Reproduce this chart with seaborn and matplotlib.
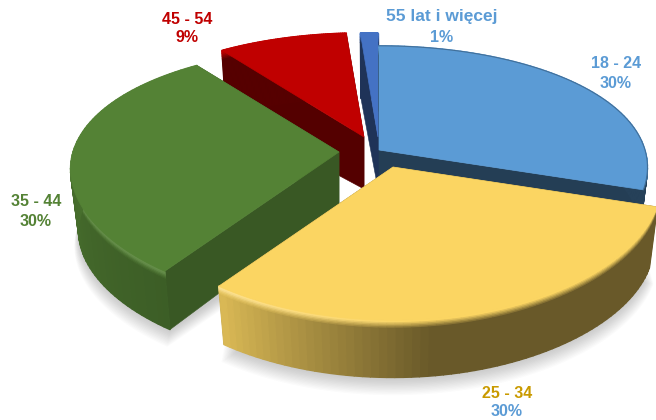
import numpy as np
import matplotlib
matplotlib.use("Agg")
import matplotlib.pyplot as plt
from matplotlib.collections import PolyCollection
from matplotlib.patches import Polygon
import seaborn as sns

categories = ["18 - 24", "25 - 34", "35 - 44", "45 - 54", "55 lat i więcej"]
values = [29.9, 30.0, 30.0, 8.9, 1.2]
base_hex = ["#5B9BD5", "#FBD562", "#548235", "#C00000", "#4472C4"]
label_hex = ["#5B9BD5", "#C99A00", "#548235", "#C00000", "#5B9BD5"]
pct_hex = ["#5B9BD5", "#5B9BD5", "#548235", "#C00000", "#5B9BD5"]

# layout / style
CENTER = (375.0, 151.0)
shift_x = [4, 18, -36, -11, 3]
shift_y = [-1, 16, 1, -14, -14]
RX, RY, KX, KY, LOW = 266.0, 124.0, 0.136, 0.19, 0.97
DEPTH, DEPTH_APEX, BEVEL = 62.0, 52.0, 9.0
cut_f = [0.40, 0.42, 0.68, 0.44, 0.45]
rim_t = [[0, 1], [0, 0.4, 1], [0.3, 1], [0, 1], [0, 1]]
rim_f = [[0.42, 0.42], [0.88, 0.42, 0.42], [0.90, 0.72], [0.45, 0.45], [0.45, 0.45]]
hilite = [0.0, 0.35, 0.12, 0.0, 0.0]
shadow = [False, True, True, False, False]
label_xy = [(616, 63, 84), (507, 393, 412), (36, 202, 221), (187, 20, 38), (442, 17, 37)]
label_pt = [11.5, 11.5, 11.5, 11.5, 12.5]
draw_order = [4, 3, 0, 2, 1]

sns.set_theme(style="white")
plt.rcParams["font.family"] = ["Liberation Sans", "DejaVu Sans"]
palette = np.array(sns.color_palette(base_hex))

fig = plt.figure(figsize=(6.56, 4.2), dpi=100, facecolor="white")
ax = fig.add_axes([0, 0, 1, 1])
ax.set_xlim(0, 656)
ax.set_ylim(420, 0)
ax.axis("off")

edges = np.concatenate([[0], np.cumsum(values)]) / np.sum(values) * 360.0


def project(theta_deg, ax0, ay0, scale=1.0):
    th = np.radians(theta_deg)
    u, v = np.sin(th), np.cos(th)
    return ax0 + scale * RX * u / (1 + KX * v), ay0 - scale * RY * v / (1 + KY * v)


for z, i in enumerate(draw_order):
    a0, a1 = edges[i], edges[i + 1]
    col = palette[i]
    px, py = CENTER[0] + shift_x[i], CENTER[1] + shift_y[i]
    thetas = np.linspace(a0, a1, 70)
    X, Y = project(thetas, px, py)
    XL, YL = project(thetas, px, py, LOW)
    YL = YL + DEPTH
    zb = 10 + z * 10

    if shadow[i]:
        for s in range(14):
            d = DEPTH + 1 + s * 1.1
            sx, sy = project(thetas, px, py, LOW + 0.0012 * s)
            poly = np.column_stack([np.r_[px, sx], np.r_[py + d, sy + d]])
            ax.add_patch(Polygon(poly, closed=True, fc="0.35", ec="none", alpha=0.022, zorder=zb))

    # cut faces
    cut = col * cut_f[i]
    for e in (0, -1):
        q = [(px, py), (X[e], Y[e]), (XL[e], YL[e]), (px, py + DEPTH_APEX)]
        ax.add_patch(Polygon(q, closed=True, fc=cut, ec=cut, lw=0.4, zorder=zb + 1))

    # outer rim with bevel, built of small shaded cells
    t = 1 - (thetas - a0) / (a1 - a0)
    fac = np.interp(t, rim_t[i], rim_f[i])
    layers = np.r_[np.linspace(0, BEVEL, 7), DEPTH] / DEPTH
    quads, colors = [], []
    for j in range(len(layers) - 1):
        s = min(1.0, layers[j] * DEPTH / BEVEL)
        f0, f1 = layers[j], layers[j + 1]
        XA, YA = X + (XL - X) * f0, Y + (YL - Y) * f0
        XB, YB = X + (XL - X) * f1, Y + (YL - Y) * f1
        for n in range(len(thetas) - 1):
            quads.append([(XA[n], YA[n]), (XA[n + 1], YA[n + 1]), (XB[n + 1], YB[n + 1]), (XB[n], YB[n])])
            lit = hilite[i] * (fac[n] - 0.42) / 0.46 if i == 1 else hilite[i]
            peak = 1 - abs(s - 0.3) / 0.7
            top = col + (1 - col) * max(lit, 0) * max(peak, 0)
            side = col * fac[n]
            m = np.clip((s - 0.2) / 0.8, 0, 1)
            colors.append(np.clip(top * (1 - m) + side * m, 0, 1))
    pc = PolyCollection(quads, facecolors=colors, edgecolors=colors, linewidths=1.0, zorder=zb + 2)
    ax.add_collection(pc)

    # top face
    poly = np.column_stack([np.r_[px, X], np.r_[py, Y]])
    ax.add_patch(Polygon(poly, closed=True, fc=col, ec=col, lw=0.5, zorder=zb + 3))
    if i == 0:
        ax.plot(X, Y, color=col * 0.6, lw=0.8, alpha=0.7, zorder=zb + 4)

    # labels
    lx, ly1, ly2 = label_xy[i]
    ax.text(lx, ly1, categories[i], color=label_hex[i], ha="center", va="center",
            fontsize=label_pt[i], fontweight="bold", zorder=200)
    ax.text(lx, ly2, f"{round(values[i])}%", color=pct_hex[i], ha="center", va="center",
            fontsize=11.5, fontweight="bold", zorder=200)

fig.savefig("out.png", dpi=100, facecolor="white")
